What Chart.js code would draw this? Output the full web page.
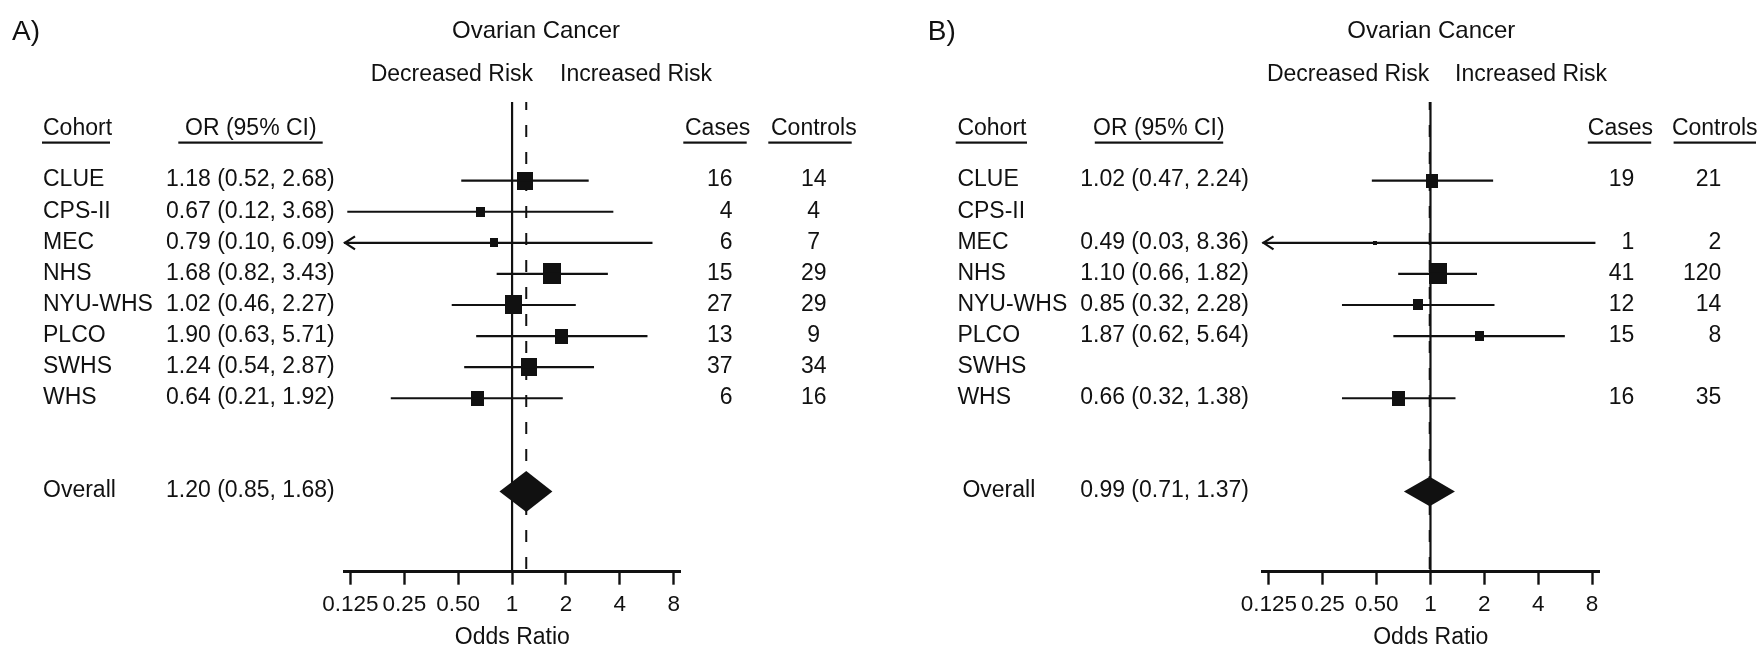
<!DOCTYPE html>
<html lang="en">
  <head>
    <meta charset="UTF-8" />
    <title>Ovarian Cancer - forest plots</title>
    <script src="https://cdn.jsdelivr.net/npm/chart.js"></script>
    <style>
      body { margin: 0; background: #fff; }
      #wrap { display: flex; width: 1760px; height: 646px; }
      canvas { display: block; }
    </style>
  </head>

  <body>
    <div id="wrap">
      <canvas id="chartA" width="880" height="646"></canvas>
      <canvas id="chartB" width="880" height="646"></canvas>
    </div>

    <script>
      // data
      const cohorts = ["CLUE", "CPS-II", "MEC", "NHS", "NYU-WHS", "PLCO", "SWHS", "WHS"];
      const tickValues = [0.125, 0.25, 0.5, 1, 2, 4, 8];
      const tickLabels = ["0.125", "0.25", "0.50", "1", "2", "4", "8"];

      // panel A
      const orA = [1.18, 0.67, 0.79, 1.68, 1.02, 1.9, 1.24, 0.64];
      const loA = [0.52, 0.12, 0.1, 0.82, 0.46, 0.63, 0.54, 0.21];
      const hiA = [2.68, 3.68, 6.09, 3.43, 2.27, 5.71, 2.87, 1.92];
      const casesA = [16, 4, 6, 15, 27, 13, 37, 6];
      const controlsA = [14, 4, 7, 29, 29, 9, 34, 16];
      const weightA = [15.4, 5.3, 4.2, 20.6, 17.5, 11.1, 15.4, 10.6];
      const overallA = [1.2, 0.85, 1.68];

      // panel B
      const orB = [1.02, null, 0.49, 1.1, 0.85, 1.87, null, 0.66];
      const loB = [0.47, null, 0.03, 0.66, 0.32, 0.62, null, 0.32];
      const hiB = [2.24, null, 8.36, 1.82, 2.28, 5.64, null, 1.38];
      const casesB = [19, null, 1, 41, 12, 15, null, 16];
      const controlsB = [21, null, 2, 120, 14, 8, null, 35];
      const weightB = [17.3, null, 1.5, 39.0, 12.0, 9.8, null, 20.4];
      const overallB = [0.99, 0.71, 1.37];

      const FONT = '"Liberation Sans", Arial, Helvetica, sans-serif';
      const INK = "#111";
      const X_MIN = Math.pow(2, -3.12);
      const X_MAX = Math.pow(2, 3.13);
      const OVERALL_ROW = 10;

      const fmt = (v) => v.toFixed(2);

      function boxCanvas(w, h) {
        const c = document.createElement("canvas");
        c.width = Math.max(2, Math.round(w));
        c.height = Math.max(2, Math.round(h));
        const g = c.getContext("2d");
        g.fillStyle = INK;
        g.fillRect(0, 0, c.width, c.height);
        return c;
      }

      function text(ctx, s, x, y, align, size) {
        ctx.font = size + "px " + FONT;
        ctx.textAlign = align;
        ctx.textBaseline = "middle";
        ctx.fillStyle = INK;
        ctx.fillText(s, x, y);
      }

      const forestDecor = {
        id: "forestDecor",
        beforeDatasetsDraw(chart) {
          const { ctx, chartArea } = chart;
          const x = chart.scales.x;
          const p = chart.options.plugins.forestDecor;
          ctx.save();
          ctx.strokeStyle = INK;
          ctx.lineWidth = 2.2;
          const x1 = x.getPixelForValue(1);
          ctx.beginPath();
          ctx.moveTo(x1, chartArea.top);
          ctx.lineTo(x1, chartArea.bottom);
          ctx.stroke();

          // dashed line at the pooled odds ratio
          const xo = x.getPixelForValue(p.overall[0]);
          ctx.lineWidth = 2;
          ctx.setLineDash([12, 15]);
          ctx.lineDashOffset = 4;
          ctx.beginPath();
          ctx.moveTo(xo, chartArea.top);
          ctx.lineTo(xo, chartArea.bottom);
          ctx.stroke();
          ctx.restore();
        },
        afterDatasetsDraw(chart) {
          const { ctx, chartArea } = chart;
          const x = chart.scales.x;
          const y = chart.scales.y;
          const p = chart.options.plugins.forestDecor;
          ctx.save();
          ctx.strokeStyle = INK;
          ctx.fillStyle = INK;
          ctx.lineWidth = 2.2;

          // arrows for intervals running off the axis
          p.lo.forEach((lo, i) => {
            if (lo == null) return;
            const yy = y.getPixelForValue(i);
            if (lo < X_MIN) {
              const xa = chartArea.left + 1;
              ctx.beginPath();
              ctx.moveTo(xa + 10, yy - 6.5);
              ctx.lineTo(xa, yy);
              ctx.lineTo(xa + 10, yy + 6.5);
              ctx.stroke();
            }
            if (p.hi[i] > X_MAX) {
              const xa = chartArea.right - 1;
              ctx.beginPath();
              ctx.moveTo(xa - 10, yy - 6.5);
              ctx.lineTo(xa, yy);
              ctx.lineTo(xa - 10, yy + 6.5);
              ctx.stroke();
            }
          });

          // pooled estimate
          const [est, lo, hi] = p.overall;
          const yd = y.getPixelForValue(OVERALL_ROW);
          const h = p.layout.diamondH;
          ctx.beginPath();
          ctx.moveTo(x.getPixelForValue(lo), yd);
          ctx.lineTo(x.getPixelForValue(est), yd - h);
          ctx.lineTo(x.getPixelForValue(hi), yd);
          ctx.lineTo(x.getPixelForValue(est), yd + h);
          ctx.closePath();
          ctx.fill();
          ctx.restore();
        },
        afterDraw(chart) {
          const { ctx } = chart;
          const y = chart.scales.y;
          const p = chart.options.plugins.forestDecor;
          const L = p.layout;
          ctx.save();

          text(ctx, L.letter, L.letterX, 32, "left", 28);
          text(ctx, "Ovarian Cancer", L.titleX, 31, "center", 24);
          text(ctx, "Decreased Risk", L.decRight, 75, "right", 23);
          text(ctx, "Increased Risk", L.incLeft, 75, "left", 23);

          const heads = [
            ["Cohort", L.cohortX],
            ["OR (95% CI)", L.orHeadX],
            ["Cases", L.casesHeadX],
            ["Controls", L.controlsHeadX],
          ];
          heads.forEach(([s, hx], k) => {
            text(ctx, s, hx, 129, "left", 23);
            const [u1, u2] = L.underline[k];
            ctx.fillRect(u1, 141.5, u2 - u1, 2.2);
          });

          cohorts.forEach((name, i) => {
            const yy = y.getPixelForValue(i) - 0.5;
            text(ctx, name, L.cohortX, yy, "left", 23);
            if (p.or[i] != null) {
              text(ctx, fmt(p.or[i]) + " (" + fmt(p.lo[i]) + ", " + fmt(p.hi[i]) + ")", L.orX, yy, "left", 23);
            }
            if (p.cases[i] != null) text(ctx, String(p.cases[i]), L.casesX, yy, L.casesAlign, 23);
            if (p.controls[i] != null) text(ctx, String(p.controls[i]), L.controlsX, yy, L.controlsAlign, 23);
          });

          const yo = y.getPixelForValue(OVERALL_ROW) - 0.5;
          const [est, lo, hi] = p.overall;
          text(ctx, "Overall", L.overallX, yo, "left", 23);
          text(ctx, fmt(est) + " (" + fmt(lo) + ", " + fmt(hi) + ")", L.orX, yo, "left", 23);
          ctx.restore();
        },
      };

      function makeForest(id, d, layout) {
        const maxW = Math.max(...d.weight.filter((w) => w != null));
        const points = [];
        const boxes = [];
        d.or.forEach((v, i) => {
          if (v == null) return;
          points.push({ x: v, y: i });
          const w = 18 * Math.sqrt(d.weight[i] / maxW);
          boxes.push(boxCanvas(w, w * 1.15));
        });

        const ciSets = [];
        d.or.forEach((v, i) => {
          if (v == null) return;
          ciSets.push({
            type: "line",
            data: [
              { x: d.lo[i], y: i },
              { x: d.hi[i], y: i },
            ],
            borderColor: INK,
            borderWidth: 2.2,
            pointRadius: 0,
            fill: false,
          });
        });

        new Chart(document.getElementById(id), {
          type: "scatter",
          data: {
            datasets: [
              ...ciSets,
              {
                type: "scatter",
                data: points,
                pointStyle: (c) => boxes[c.dataIndex],
                pointRadius: 5,
                backgroundColor: INK,
                borderWidth: 0,
              },
            ],
          },
          options: {
            responsive: false,
            animation: false,
            events: [],
            layout: {
              padding: { left: layout.plotLeft, right: 880 - layout.plotRight, top: 102, bottom: 0 },
            },
            plugins: {
              legend: { display: false },
              tooltip: { enabled: false },
              forestDecor: Object.assign({ layout: layout }, d),
            },
            scales: {
              x: {
                type: "logarithmic",
                min: X_MIN,
                max: X_MAX,
                afterBuildTicks: (s) => {
                  s.ticks = tickValues.map((v) => ({ value: v }));
                },
                afterFit: (s) => {
                  s.height = 646 - 571.7;
                },
                grid: {
                  drawOnChartArea: false,
                  drawTicks: true,
                  tickLength: 13,
                  tickWidth: 2.4,
                  tickColor: INK,
                },
                border: { display: true, color: INK, width: 3 },
                ticks: {
                  callback: (v, i) => tickLabels[i],
                  color: INK,
                  font: { family: FONT, size: 22.5 },
                  padding: 7,
                  maxRotation: 0,
                  autoSkip: false,
                },
                title: {
                  display: true,
                  text: "Odds Ratio",
                  color: INK,
                  font: { family: FONT, size: 23 },
                  padding: { top: 0, bottom: -5 },
                },
              },
              y: { type: "linear", display: false, reverse: true, min: -2.53, max: 12.58 },
            },
          },
          plugins: [forestDecor],
        });
      }

      makeForest(
        "chartA",
        { or: orA, lo: loA, hi: hiA, cases: casesA, controls: controlsA, weight: weightA, overall: overallA },
        {
          letter: "A)", letterX: 12, titleX: 536, decRight: 533, incLeft: 560,
          cohortX: 43, overallX: 43, orX: 166,
          orHeadX: 185, casesHeadX: 685, controlsHeadX: 771,
          underline: [[42, 110], [178.3, 322.7], [683.3, 746.7], [768.3, 851.7]],
          casesX: 732.5, casesAlign: "right", controlsX: 813.7, controlsAlign: "center",
          plotLeft: 344, plotRight: 680.7, diamondH: 20.5,
        }
      );

      makeForest(
        "chartB",
        { or: orB, lo: loB, hi: hiB, cases: casesB, controls: controlsB, weight: weightB, overall: overallB },
        {
          letter: "B)", letterX: 47.7, titleX: 551.3, decRight: 549.3, incLeft: 575,
          cohortX: 77.4, overallX: 82.4, orX: 200.2,
          orHeadX: 213, casesHeadX: 707.8, controlsHeadX: 791.9,
          underline: [[75.7, 147], [214.8, 343.2], [707.8, 771.2], [793.6, 876]],
          casesX: 754.3, casesAlign: "right", controlsX: 841.3, controlsAlign: "right",
          plotLeft: 382.5, plotRight: 719, diamondH: 14.7,
        }
      );
    </script>
  </body>
</html>
